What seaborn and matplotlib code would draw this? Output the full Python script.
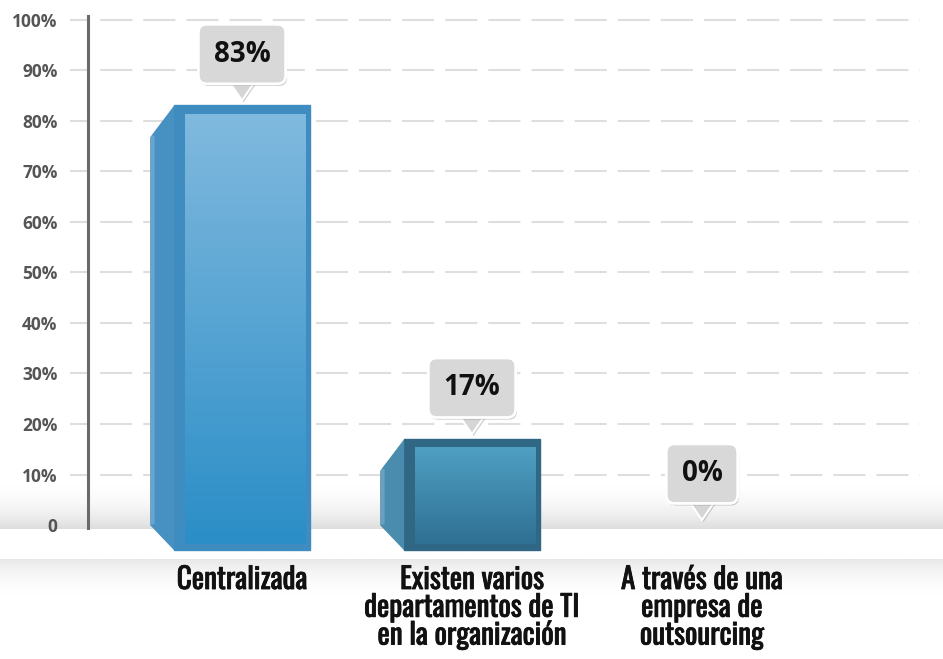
import numpy as np
import pandas as pd
import seaborn as sns
import matplotlib.pyplot as plt
import matplotlib.patheffects as pe
from matplotlib.colors import LinearSegmentedColormap
from matplotlib.patches import Polygon
from matplotlib.transforms import ScaledTranslation

# chart data
categories = [
    "Centralizada",
    "Existen varios\ndepartamentos de TI\nen la organización",
    "A través de una\nempresa de\noutsourcing",
]
values = [83, 17, 0]
value_labels = ["83%", "17%", "0%"]
y_ticks = [0, 10, 20, 30, 40, 50, 60, 70, 80, 90, 100]
y_tick_labels = ["0", "10%", "20%", "30%", "40%", "50%", "60%", "70%", "80%", "90%", "100%"]
marked_ticks = [20, 80, 100]

# bar styling (front gradient top/bottom, border, side face)
front_top = ["#80b9de", "#4e9fc2", "#4e9fc2"]
front_bottom = ["#2b8ec7", "#2f7094", "#2f7094"]
border_colors = ["#3f8cc0", "#2f6785", "#2f6785"]
side_colors = ["#4790c2", "#4a8cae", "#4a8cae"]

FLOOR = 5.0      # how far the 3d front face drops below the baseline
SIDE_W = 0.105   # side face width in x units
SIDE_DROP = 6.3  # side face slant at the top

sns.set_theme(style="white")
plt.rcParams["font.family"] = ["Open Sans", "DejaVu Sans"]
label_font = ["Oswald", "DejaVu Sans"]

fig = plt.figure(figsize=(9.43, 6.59), dpi=100)
fig.patch.set_facecolor("white")

# background "floor" shading, in pixel coordinates
bg = fig.add_axes([0, 0, 1, 1], zorder=-1)
bg.axis("off")
bg.set_xlim(0, 943)
bg.set_ylim(659, 0)
n = 80
band_a = np.zeros((n, 1, 4))
band_a[..., :3] = 0.74
band_a[:, 0, 3] = np.linspace(0, 1, n) ** 2.0 * 0.5
bg.imshow(band_a, extent=(0, 943, 529, 480), aspect="auto", origin="upper")
band_b = np.zeros((n, 1, 4))
band_b[..., :3] = 0.80
band_b[:, 0, 3] = np.linspace(1, 0, n) ** 2.0 * 0.45
bg.imshow(band_b, extent=(0, 943, 600, 559), aspect="auto", origin="upper")

ax = fig.add_axes([0.07423, 0.14264, 0.90138, 0.83156])
ax.set_facecolor("none")

df = pd.DataFrame({"categoria": categories, "valor": values})
sns.barplot(data=df, x="categoria", y="valor", ax=ax, width=0.59,
            color=border_colors[0], saturation=1, zorder=3)

for i, (patch, v) in enumerate(zip(ax.patches, values)):
    if v <= 0:
        patch.set_visible(False)
        continue
    patch.set_y(-FLOOR)
    patch.set_height(v + FLOOR)
    patch.set_facecolor(border_colors[i])
    patch.set_edgecolor(border_colors[i])
    patch.set_linewidth(1)
    x0 = patch.get_x()
    w = patch.get_width()
    # front face gradient
    cmap = LinearSegmentedColormap.from_list(f"g{i}", [front_top[i], front_bottom[i]])
    grad = np.linspace(0, 1, 100)[:, None]
    ax.imshow(grad, cmap=cmap, extent=(x0 + 0.045, x0 + w - 0.022, -FLOOR + 1.2, v - 1.8),
              aspect="auto", origin="upper", zorder=3.5)
    # side face
    ax.fill([x0 - SIDE_W, x0, x0, x0 - SIDE_W],
            [v - SIDE_DROP, v, -FLOOR, 0],
            color=side_colors[i], zorder=3.2, lw=0)
    ax.fill([x0 - SIDE_W, x0 - SIDE_W + 0.02, x0 - SIDE_W + 0.02, x0 - SIDE_W],
            [v - SIDE_DROP + 0.5, v - SIDE_DROP + 0.3, 0.2, 0],
            color="white", alpha=0.18, zorder=3.3, lw=0)

# dashed grid lines
for t in y_ticks[1:]:
    ax.axhline(t, color="#dedede", lw=1.5, ls=(6.2, (15.4, 5.3)), zorder=1)

# callouts
for i, (v, lbl) in enumerate(zip(values, value_labels)):
    anchor = fig.dpi_scale_trans + ScaledTranslation(i, v, ax.transData)
    tri = Polygon([(0, 0.05), (-0.13, 0.24), (0.13, 0.24)], closed=True,
                  transform=anchor, fc="#d5d5d5", ec="white", lw=1.5, zorder=5)
    tri.set_path_effects([pe.SimplePatchShadow(offset=(1, -1.5), shadow_rgbFace="#888888", alpha=0.4),
                          pe.Normal()])
    ax.add_patch(tri)
    ann = ax.annotate(lbl, xy=(i, v), xytext=(0, 37), textcoords="offset points",
                      ha="center", va="center", fontsize=20, fontweight="bold",
                      color="#111111", zorder=6,
                      bbox=dict(boxstyle="round,pad=0.55,rounding_size=0.3",
                                fc="#d8d8d8", ec="white", lw=2))
    ann.get_bbox_patch().set_path_effects(
        [pe.SimplePatchShadow(offset=(1, -1.5), shadow_rgbFace="#888888", alpha=0.45), pe.Normal()])

# axes styling
for s in ["top", "right", "bottom"]:
    ax.spines[s].set_visible(False)
ax.spines["left"].set_position(("axes", 18 / 850))
ax.spines["left"].set_color("#6a6a6a")
ax.spines["left"].set_linewidth(2.2)
ax.spines["left"].set_bounds(-0.6, 100.6)
ax.spines["left"].set_zorder(2)

ax.set_yticks(y_ticks, y_tick_labels)
ax.set_yticks(marked_ticks, minor=True)
ax.tick_params(axis="y", which="major", left=True, length=0, pad=22,
               labelsize=12.5, labelcolor="#555555")
ax.tick_params(axis="y", which="minor", left=True, length=18, width=2.2,
               color="#6a6a6a", direction="out")
for t in ax.get_yticklabels():
    t.set_fontweight("bold")

ax.set_xticks(range(len(categories)), categories)
ax.tick_params(axis="x", length=0, pad=0)
for t in ax.get_xticklabels():
    t.set_fontfamily(label_font)
    t.set_fontsize(21)
    t.set_color("#111111")
    t.set_linespacing(0.95)
    t.set_path_effects([pe.withStroke(linewidth=0.6, foreground="#111111")])

ax.set_xlim(-0.748, 2.948)
ax.set_ylim(-7.9, 100.5)
ax.set_xlabel("")
ax.set_ylabel("")

fig.savefig("out.png", dpi=100)
